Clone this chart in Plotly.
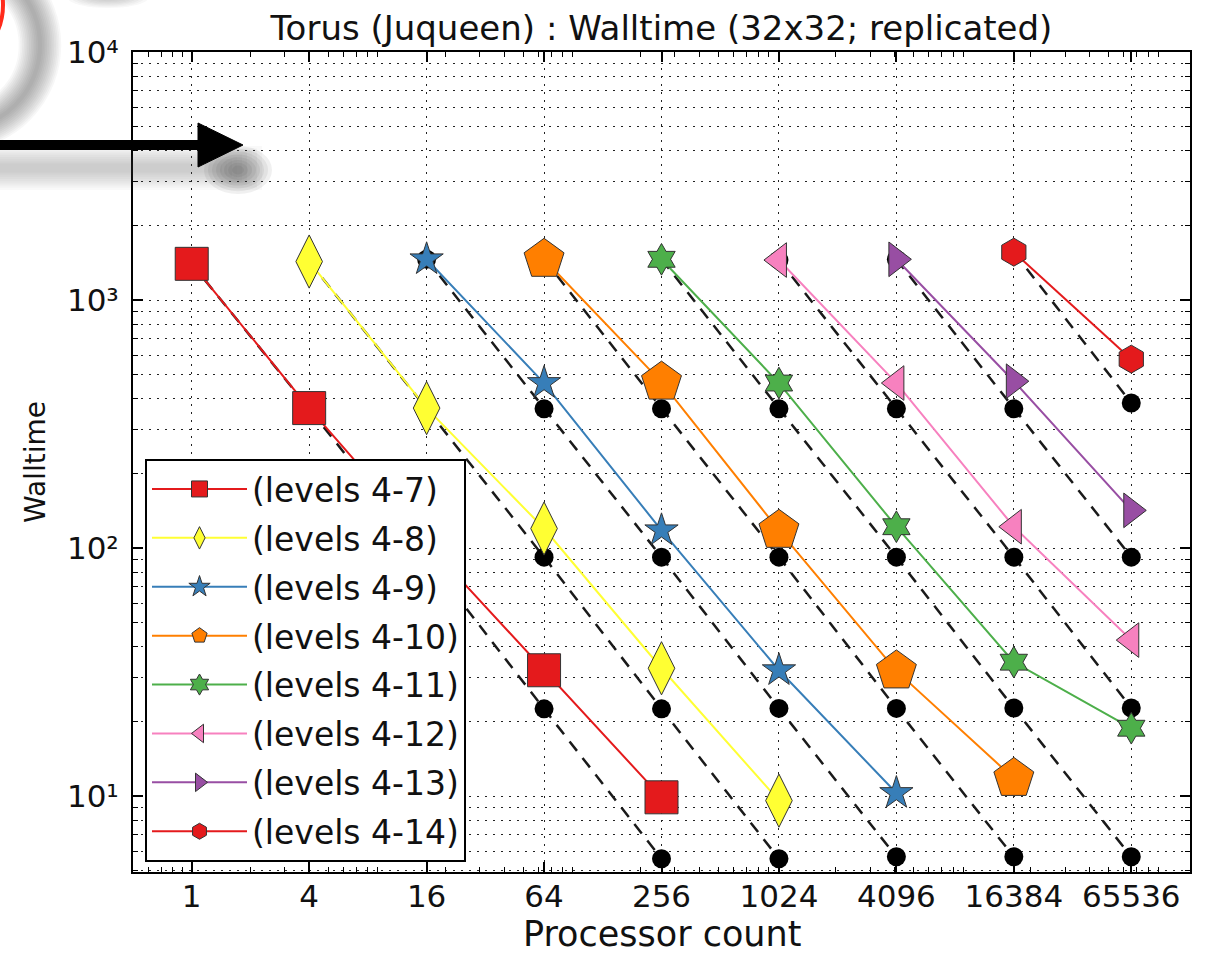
import plotly.graph_objects as go
import math

# ---------------- data ----------------
x_ticks = [1, 4, 16, 64, 256, 1024, 4096, 16384, 65536]
x_ticktext = ["1", "4", "16", "64", "256", "1024", "4096", "16384", "65536"]
y_ticks = [10, 100, 1000, 10000]
y_ticktext = ["10¹", "10²", "10³", "10⁴"]

names = ["(levels 4-7)", "(levels 4-8)", "(levels 4-9)", "(levels 4-10)",
         "(levels 4-11)", "(levels 4-12)", "(levels 4-13)", "(levels 4-14)"]

x_l7 = [1, 4, 16, 64, 256]
y_l7 = [1400, 367, 105, 32.2, 9.9]
x_l8 = [4, 16, 64, 256, 1024]
y_l8 = [1430, 367, 120, 32.8, 9.6]
x_l9 = [16, 64, 256, 1024, 4096]
y_l9 = [1460, 463, 118, 32.2, 10.3]
x_l10 = [64, 256, 1024, 4096, 16384]
y_l10 = [1460, 467, 118, 32.0, 11.8]
x_l11 = [256, 1024, 4096, 16384, 65536]
y_l11 = [1460, 463, 122, 34.7, 18.8]
x_l12 = [1024, 4096, 16384, 65536]
y_l12 = [1450, 463, 122, 42.6]
x_l13 = [4096, 16384, 65536]
y_l13 = [1460, 471, 142]
x_l14 = [16384, 65536]
y_l14 = [1560, 578]

# ideal-scaling reference points (black dots, dashed)
ideal_l7 = [1400, 365, 92, 22.5, 5.6]
ideal_l8 = [1430, 365, 92, 22.5, 5.6]
ideal_l9 = [1460, 365, 92, 22.6, 5.7]
ideal_l10 = [1460, 365, 92, 22.6, 5.7]
ideal_l11 = [1460, 365, 92, 22.7, 5.7]
ideal_l12 = [1450, 365, 92, 22.7]
ideal_l13 = [1460, 365, 92]
ideal_l14 = [1560, 385]

xs = [x_l7, x_l8, x_l9, x_l10, x_l11, x_l12, x_l13, x_l14]
ys = [y_l7, y_l8, y_l9, y_l10, y_l11, y_l12, y_l13, y_l14]
ideals = [ideal_l7, ideal_l8, ideal_l9, ideal_l10, ideal_l11, ideal_l12, ideal_l13, ideal_l14]

colors = ["#e41a1c", "#ffff33", "#377eb8", "#ff7f00", "#4daf4a", "#f781bf", "#984ea3", "#e41a1c"]
symbols = ["square", "diamond-tall", "star", "pentagon", "hexagram", "triangle-left", "triangle-right", "hexagon"]
sizes = [33, 38, 25, 42, 24, 30, 30, 28]

# ---------------- figure ----------------
FONT = "DejaVu Sans"
W, H = 1208, 956
L, R, T, B = 133, 18, 52, 84
PW, PH = W - L - R, H - T - B

fig = go.Figure()

for i in range(len(names)):
    fig.add_trace(go.Scatter(
        x=xs[i], y=ideals[i], mode="lines+markers",
        line=dict(color="#1a1a1a", width=2.5, dash="12px,9px"),
        marker=dict(symbol="circle", size=19, color="black", line=dict(width=0)),
        showlegend=False, hoverinfo="skip"))

for i in range(len(names)):
    fig.add_trace(go.Scatter(
        x=xs[i], y=ys[i], mode="lines+markers", name=names[i],
        legendgroup="g%d" % i,
        line=dict(color=colors[i], width=2),
        marker=dict(symbol=symbols[i], size=sizes[i], color=colors[i],
                    line=dict(color="#333333", width=1))))

# minor tick positions (log axes)
y_minor = []
for e in range(0, 4):
    for m in range(2, 10):
        v = m * 10 ** e
        if 4.95 <= v <= 10000:
            y_minor.append(v)
x_minor = []
for e in range(-1, 6):
    for m in range(2, 10):
        v = m * 10 ** e
        if 0.5 <= v <= 131072:
            x_minor.append(v)

axis_common = dict(
    showline=True, linecolor="black", linewidth=2, mirror="ticks",
    ticks="inside", ticklen=10, tickwidth=1.5, tickcolor="black",
    showgrid=True, gridcolor="#222222", gridwidth=1, griddash="2px,6px",
    zeroline=False, automargin=False,
    tickfont=dict(family=FONT, size=31, color="#111111"),
)

fig.update_xaxes(
    type="log", range=[math.log10(0.5), math.log10(131072)],
    tickmode="array", tickvals=x_ticks, ticktext=x_ticktext,
    ticklabelstandoff=-4,
    minor=dict(tickvals=x_minor, ticks="inside", ticklen=5, tickwidth=1.2,
               tickcolor="black", showgrid=False),
    **axis_common)

fig.update_yaxes(
    type="log", range=[math.log10(4.95), 4],
    tickmode="array", tickvals=y_ticks, ticktext=y_ticktext,
    ticklabelstandoff=6,
    minor=dict(tickvals=y_minor, ticks="inside", ticklen=5, tickwidth=1.2,
               tickcolor="black", showgrid=True, gridcolor="#222222", gridwidth=1,
               griddash="2px,6px"),
    title=dict(text="Walltime", font=dict(family=FONT, size=28, color="#111111"), standoff=13),
    **axis_common)

def px(x):
    return (x - L) / PW

def py(y):
    return (H - B - y) / PH

shapes = []
# decorative overlay: soft gray smudges, red arc, arrow
for k in range(12):
    w = 4 + 3.5 * k
    shapes.append(dict(type="circle", xref="paper", yref="paper",
                       x0=px(-130), x1=px(40), y0=py(130), y1=py(-40),
                       line=dict(color="rgba(70,70,70,0.045)", width=w), layer="above"))
for k in range(8):
    rx, ry = 40 - 4 * k, 10 - 1.2 * k
    shapes.append(dict(type="circle", xref="paper", yref="paper",
                       x0=px(108 - rx), x1=px(108 + rx), y0=py(-2 + ry), y1=py(-2 - ry),
                       fillcolor="rgba(80,80,80,0.04)", line=dict(width=0), layer="above"))
shapes.append(dict(type="circle", xref="paper", yref="paper",
                   x0=px(-123), x1=px(3), y0=py(68), y1=py(-58),
                   line=dict(color="#ff2a1a", width=4), layer="above"))
for k in range(9):
    hh = 22 - 2.2 * k
    shapes.append(dict(type="rect", xref="paper", yref="paper",
                       x0=px(0), x1=px(262 - 5 * k), y0=py(168 + hh), y1=py(168 - hh),
                       fillcolor="rgba(80,80,80,0.035)", line=dict(width=0), layer="above"))
for k in range(8):
    rx, ry = 34 - 4 * k, 24 - 2.8 * k
    shapes.append(dict(type="circle", xref="paper", yref="paper",
                       x0=px(238 - rx), x1=px(238 + rx), y0=py(170 + ry), y1=py(170 - ry),
                       fillcolor="rgba(40,40,40,0.07)", line=dict(width=0), layer="above"))
shapes.append(dict(type="line", xref="paper", yref="paper",
                   x0=px(0), x1=px(205), y0=py(145), y1=py(145),
                   line=dict(color="black", width=10), layer="above"))
shapes.append(dict(type="path", xref="paper", yref="paper",
                   path="M %f %f L %f %f L %f %f Z" % (px(198), py(123), px(243), py(145), px(198), py(167)),
                   fillcolor="black", line=dict(color="black", width=1), layer="above"))

fig.update_layout(
    width=W, height=H,
    margin=dict(l=L, r=R, t=T, b=B, autoexpand=False),
    paper_bgcolor="white", plot_bgcolor="white",
    font=dict(family=FONT, color="#111111"),
    title=dict(text="Torus (Juqueen) : Walltime (32x32; replicated)",
               font=dict(family=FONT, size=34, color="#111111"),
               x=0.5, xref="paper", xanchor="center",
               y=1 - 28 / H, yref="container", yanchor="middle"),
    legend=dict(x=px(145), y=py(862), xanchor="left", yanchor="bottom",
                bgcolor="white", bordercolor="black", borderwidth=2,
                font=dict(family=FONT, size=33, color="#111111"),
                itemsizing="trace", itemwidth=95,
                traceorder="grouped", tracegroupgap=3),
    annotations=[dict(text="Processor count", xref="paper", yref="paper",
                      x=0.5, y=py(955), xanchor="center", yanchor="bottom",
                      borderpad=0, showarrow=False,
                      font=dict(family=FONT, size=35, color="#111111"))],
    shapes=shapes,
)

fig.write_html("out.html")
